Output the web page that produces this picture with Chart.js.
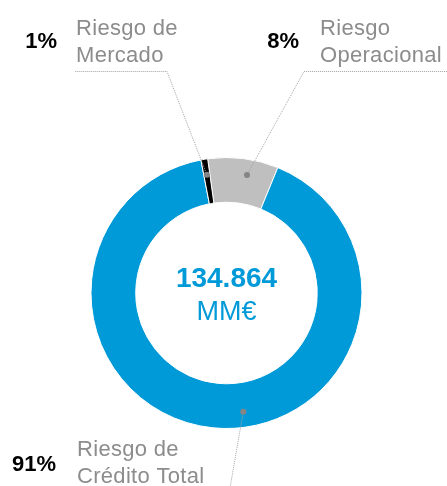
<!DOCTYPE html>
<html>
<head>
<meta charset="utf-8">
<script src="https://cdn.jsdelivr.net/npm/chart.js@4/dist/chart.umd.min.js"></script>
<style>
html,body{margin:0;padding:0;background:#fff;}
#c{display:block;}
</style>
</head>
<body>
<canvas id="c" width="447" height="486"></canvas>
<script>
// ---- data ----
const categories = ['Riesgo Operacional', 'Riesgo de Crédito Total', 'Riesgo de Mercado'];
const labelLines = [['Riesgo', 'Operacional'], ['Riesgo de', 'Crédito Total'], ['Riesgo de', 'Mercado']];
const shares = [8.4, 90.8, 0.8];            // % of total
const totalValue = '134.864';
const totalUnit = 'MM€';

// ---- styles ----
const BLUE = '#009AD8';
const sliceColors = ['#BFBFBF', BLUE, '#000000'];
const FONT = '"Liberation Sans", Arial, sans-serif';

// label layout per slice: anchor fraction in slice, elbow point, line end, text positions
const layout = [
  { frac: 0.59, path: [[304, 71.5], [447, 71.5]], pctX: 299, pctY: 48, textX: 320, textY: [35, 62] },
  { frac: 0.458, path: [[229.3, 492]], pctX: 56, pctY: 471, textX: 77, textY: [456, 483] },
  { frac: 0.5, path: [[167, 71.5], [75, 71.5]], pctX: 57, pctY: 48, textX: 76, textY: [35, 62] }
];

const labelPlugin = {
  id: 'labels',
  afterDraw(chart) {
    const ctx = chart.ctx;
    const meta = chart.getDatasetMeta(0);
    meta.data.forEach((arc, i) => {
      const p = arc.getProps(['x', 'y', 'startAngle', 'endAngle', 'innerRadius', 'outerRadius'], true);
      const L = layout[i];
      const ang = p.startAngle + (p.endAngle - p.startAngle) * L.frac;
      const r = p.innerRadius + (p.outerRadius - p.innerRadius) * 0.65;
      const dx = p.x + Math.cos(ang) * r;
      const dy = p.y + Math.sin(ang) * r;
      // leader line
      ctx.save();
      ctx.strokeStyle = '#A3A3A3';
      ctx.lineWidth = 1;
      ctx.setLineDash([1, 1]);
      ctx.beginPath();
      ctx.moveTo(dx, dy);
      L.path.forEach(pt => ctx.lineTo(pt[0], pt[1]));
      ctx.stroke();
      ctx.restore();
      // dot
      ctx.save();
      ctx.fillStyle = '#858585';
      ctx.beginPath();
      ctx.arc(dx, dy, 3, 0, Math.PI * 2);
      ctx.fill();
      ctx.restore();
      // percentage
      ctx.save();
      ctx.fillStyle = '#000';
      ctx.font = 'bold 22px ' + FONT;
      ctx.textAlign = 'right';
      ctx.textBaseline = 'alphabetic';
      ctx.fillText(Math.round(shares[i]) + '%', L.pctX, L.pctY);
      // category text
      ctx.fillStyle = '#8C8C8C';
      ctx.font = '22px ' + FONT;
      ctx.textAlign = 'left';
      try { ctx.letterSpacing = '0.3px'; } catch (e) {}
      labelLines[i].forEach((t, k) => ctx.fillText(t, L.textX, L.textY[k]));
      ctx.restore();
    });
    // center text
    const a0 = meta.data[0];
    ctx.save();
    ctx.fillStyle = BLUE;
    ctx.textAlign = 'center';
    ctx.textBaseline = 'alphabetic';
    ctx.font = 'bold 28px ' + FONT;
    ctx.fillText(totalValue, a0.x, 287);
    ctx.font = '27px ' + FONT;
    ctx.fillText(totalUnit, a0.x, 320);
    ctx.restore();
  }
};

new Chart(document.getElementById('c'), {
  type: 'doughnut',
  data: {
    labels: categories,
    datasets: [{
      data: shares,
      backgroundColor: sliceColors,
      borderColor: '#FFFFFF',
      borderWidth: 1,
      hoverOffset: 0
    }]
  },
  options: {
    responsive: false,
    animation: false,
    rotation: -8,
    cutout: '67%',
    layout: { padding: { top: 157, bottom: 57, left: 90, right: 84 } },
    plugins: {
      legend: { display: false },
      tooltip: { enabled: false }
    }
  },
  plugins: [labelPlugin]
});
</script>
</body>
</html>
